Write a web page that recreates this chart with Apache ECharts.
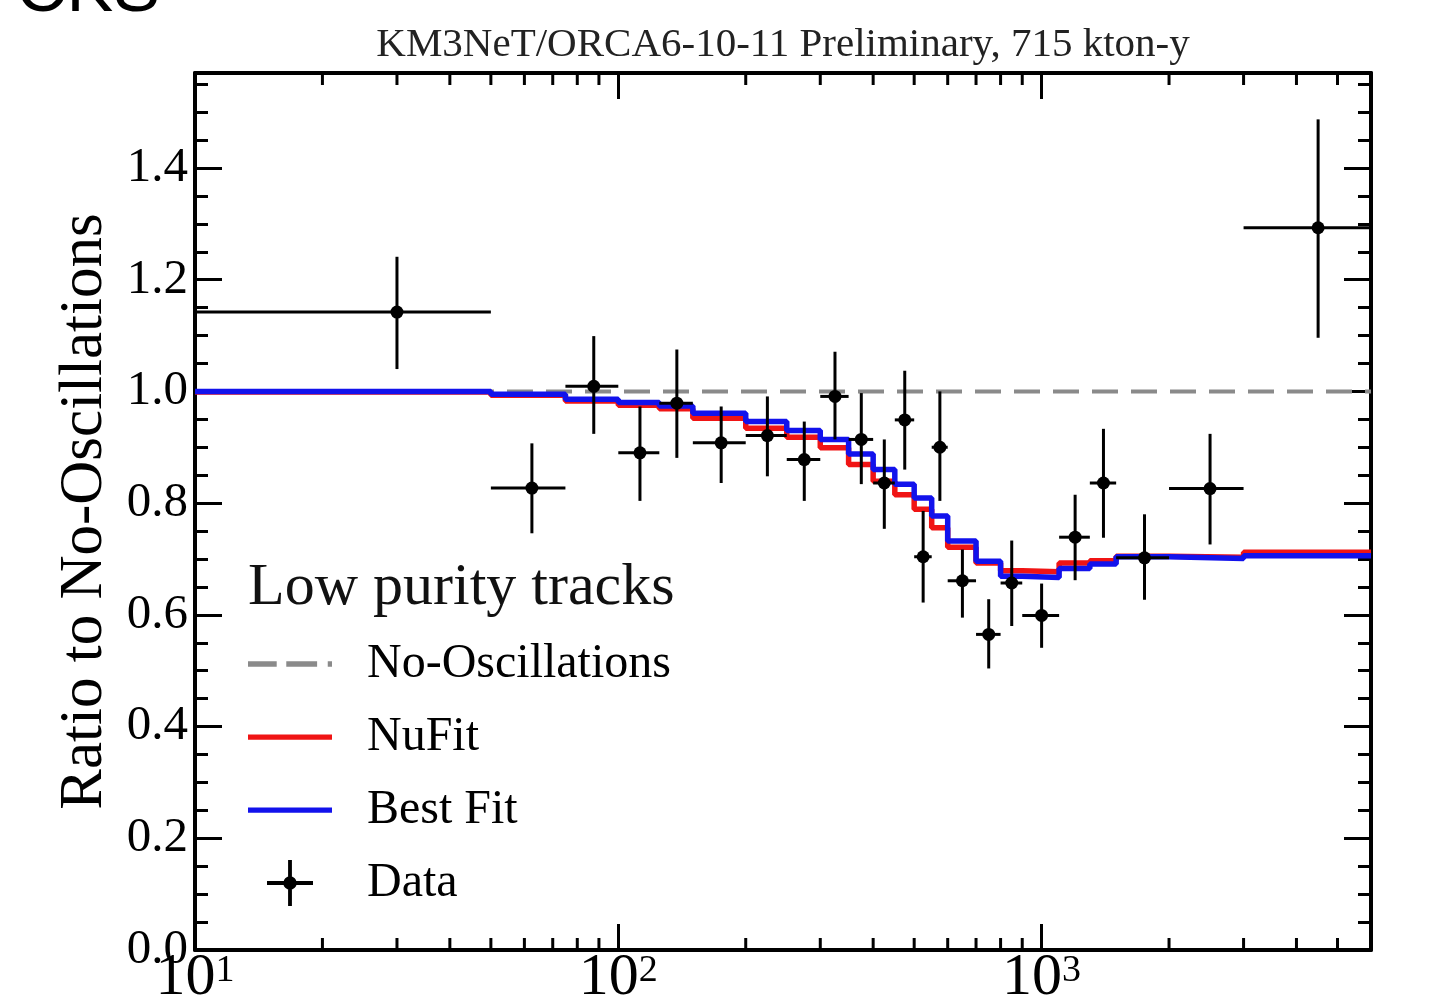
<!DOCTYPE html>
<html><head><meta charset="utf-8">
<script src="https://cdn.jsdelivr.net/npm/echarts@6/dist/echarts.min.js"></script>
<style>html,body{margin:0;padding:0;background:#fff}#c{width:1435px;height:1008px}</style>
</head><body><div id="c"></div>
<script>
// ---- data ----
const binLo = [10, 50, 75, 100, 125, 150, 200, 250, 300, 350, 400, 450, 500, 550, 600, 700, 800, 900, 1100, 1300, 1500, 2000, 3000];
const binHi = [50, 75, 100, 125, 150, 200, 250, 300, 350, 400, 450, 500, 550, 600, 700, 800, 900, 1100, 1300, 1500, 2000, 3000, 6000];
const dataX = [30, 62.5, 87.5, 112.5, 137.5, 175, 225, 275, 325, 375, 425, 475, 525, 575, 650, 750, 850, 1000, 1200, 1400, 1750, 2500, 4500];
const dataY = [1.142, 0.827, 1.009, 0.890, 0.979, 0.908, 0.921, 0.878, 0.991, 0.914, 0.836, 0.949, 0.704, 0.900, 0.661, 0.565, 0.657, 0.599, 0.739, 0.836, 0.702, 0.826, 1.293];
const dataErrLo = [1.040, 0.746, 0.924, 0.804, 0.881, 0.836, 0.848, 0.804, 0.914, 0.834, 0.754, 0.860, 0.622, 0.804, 0.595, 0.504, 0.580, 0.541, 0.662, 0.738, 0.627, 0.726, 1.096];
const dataErrHi = [1.241, 0.907, 1.099, 0.973, 1.075, 0.973, 0.991, 0.946, 1.071, 0.997, 0.914, 1.037, 0.786, 1.000, 0.717, 0.628, 0.733, 0.656, 0.815, 0.933, 0.780, 0.924, 1.487];
const nufit   = [0.999, 0.993, 0.983, 0.975, 0.969, 0.952, 0.934, 0.918, 0.899, 0.869, 0.839, 0.815, 0.789, 0.756, 0.721, 0.693, 0.679, 0.677, 0.693, 0.697, 0.705, 0.703, 0.712];
const bestFit = [1.000, 0.995, 0.986, 0.980, 0.974, 0.961, 0.946, 0.930, 0.914, 0.888, 0.860, 0.834, 0.809, 0.777, 0.732, 0.696, 0.669, 0.667, 0.683, 0.691, 0.704, 0.701, 0.706];
const noOscRatio = 1.0;
const xMin = 10, xMax = 6000;
const yMin = 0, yMax = 1.57, yStep = 0.2;
const xMajorTicks = [10, 100, 1000];
const xMinorTicks = [20, 30, 40, 50, 60, 70, 80, 90, 200, 300, 400, 500, 600, 700, 800, 900, 2000, 3000, 4000, 5000];
const seriesNames = ['No-Oscillations', 'NuFit', 'Best Fit', 'Data'];
const legendTitle = 'Low purity tracks';
const chartTitle = 'KM3NeT/ORCA6-10-11 Preliminary, 715 kton-y';
const yAxisName = 'Ratio to No-Oscillations';
const cornerText = 'CKS';

// ---- build ----
const SERIF = '"Liberation Serif", "Times New Roman", serif';
const RED = '#f01414', BLUE = '#1212ec', GRAY = '#8a8a8a';

function stepData(vals) {
  const d = binLo.map((x, i) => [x, vals[i]]);
  d.push([binHi[binHi.length - 1], vals[vals.length - 1]]);
  return d;
}

const axisLineStyle = { show: true, onZero: false, lineStyle: { color: '#000', width: 4 } };
const tickStyle = { width: 3, color: '#000' };

function xLabel(v) {
  const e = Math.round(Math.log10(v));
  if (Math.abs(v - Math.pow(10, e)) < 1e-6 * v) return '{b|10}{s|' + e + '}';
  return '';
}
function yLabel(v) {
  const k = v / yStep;
  if (Math.abs(k - Math.round(k)) < 1e-6) return v.toFixed(1);
  return '';
}

const xBase = {
  type: 'log', logBase: 10, min: xMin, max: xMax, gridIndex: 0,
  axisLine: axisLineStyle,
  axisTick: { show: true, inside: true, length: 26, lineStyle: tickStyle, customValues: xMajorTicks },
  minorTick: { show: false },
  splitLine: { show: false }, minorSplitLine: { show: false }
};
const yBase = {
  type: 'value', min: yMin, max: yMax, interval: yStep, gridIndex: 0,
  axisLine: axisLineStyle,
  axisTick: { show: true, inside: true, length: 27, lineStyle: tickStyle },
  minorTick: { show: true, splitNumber: 4, length: 13, lineStyle: tickStyle },
  splitLine: { show: false }, minorSplitLine: { show: false }
};

const option = {
  animation: false,
  backgroundColor: '#fff',
  grid: { left: 195, right: 64, top: 73, bottom: 58, containLabel: false },
  xAxis: [
    Object.assign({}, xBase, {
      position: 'bottom',
      axisLabel: {
        show: true, margin: 2, formatter: xLabel, customValues: xMajorTicks,
        rich: {
          b: { fontFamily: SERIF, fontSize: 60, color: '#000', lineHeight: 52 },
          s: { fontFamily: SERIF, fontSize: 38, color: '#000', verticalAlign: 'top', lineHeight: 34 }
        }
      }
    }),
    Object.assign({}, xBase, { position: 'top', axisLabel: { show: false } })
  ],
  yAxis: [
    Object.assign({}, yBase, {
      position: 'left',
      name: yAxisName, nameLocation: 'middle', nameGap: 78, nameRotate: 90,
      nameTextStyle: { fontFamily: SERIF, fontSize: 61, color: '#000' },
      axisLabel: { show: true, margin: 7, formatter: yLabel, fontFamily: SERIF, fontSize: 49, color: '#000' }
    }),
    Object.assign({}, yBase, { position: 'right', axisLabel: { show: false } })
  ],
  legend: {
    orient: 'vertical', left: 248, top: 640, padding: 0,
    itemWidth: 84, itemHeight: 46, itemGap: 25,
    selectedMode: false,
    textStyle: { fontFamily: SERIF, fontSize: 48, color: '#000', padding: [0, 0, 0, 30] },
    itemStyle: { borderWidth: 0 },
    data: [
      { name: seriesNames[0], icon: 'path://M0,0h27v5h-27z M36,0h29v5h-29z M75,0h4v5h-4z' },
      { name: seriesNames[1], icon: 'path://M0,0h80v5h-80z' },
      { name: seriesNames[2], icon: 'path://M0,0h80v5h-80z' },
      { name: seriesNames[3], icon: 'path://M0,22h48v4h-48z M22,0h4v48h-4z M17,24a7,7 0 1,1 14,0a7,7 0 1,1 -14,0z' }
    ]
  },
  graphic: [
    { type: 'text', x: 16, y: -8, style: { text: cornerText, font: '70px "Liberation Sans", Arial, sans-serif', fill: '#000', align: 'left', verticalAlign: 'middle' }, silent: true },
    { type: 'text', x: 783, y: 45, style: { text: chartTitle, font: '41px ' + SERIF, fill: '#222', align: 'center', verticalAlign: 'middle' }, silent: true },
    { type: 'text', x: 248, y: 588, style: { text: legendTitle, font: '60px ' + SERIF, fill: '#111', align: 'left', verticalAlign: 'middle' }, silent: true }
  ],
  series: [
    {
      name: seriesNames[0], type: 'line', xAxisIndex: 0, yAxisIndex: 0,
      data: [[xMin, noOscRatio], [xMax, noOscRatio]],
      symbol: 'none', color: GRAY,
      lineStyle: { color: GRAY, width: 4, type: [26, 13] }, z: 2
    },
    {
      name: seriesNames[1], type: 'line', xAxisIndex: 0, yAxisIndex: 0,
      data: stepData(nufit), step: 'end', symbol: 'none', color: RED,
      lineStyle: { color: RED, width: 5.5 }, z: 3
    },
    {
      name: seriesNames[2], type: 'line', xAxisIndex: 0, yAxisIndex: 0,
      data: stepData(bestFit), step: 'end', symbol: 'none', color: BLUE,
      lineStyle: { color: BLUE, width: 5.5 }, z: 4
    },
    {
      name: seriesNames[3], type: 'custom', xAxisIndex: 0, yAxisIndex: 0, coordinateSystem: 'cartesian2d',
      color: '#000', itemStyle: { color: '#000' }, z: 10,
      data: dataX.map((x, i) => [x, dataY[i], binLo[i], binHi[i], dataErrLo[i], dataErrHi[i]]),
      encode: { x: [0, 2, 3], y: [1, 4, 5] },
      renderItem: function (params, api) {
        const c = api.coord([api.value(0), api.value(1)]);
        const l = api.coord([api.value(2), api.value(1)]);
        const r = api.coord([api.value(3), api.value(1)]);
        const lo = api.coord([api.value(0), api.value(4)]);
        const hi = api.coord([api.value(0), api.value(5)]);
        return {
          type: 'group', children: [
            { type: 'line', shape: { x1: l[0], y1: c[1], x2: r[0], y2: c[1] }, style: { stroke: '#000', lineWidth: 3 } },
            { type: 'line', shape: { x1: c[0], y1: hi[1], x2: c[0], y2: lo[1] }, style: { stroke: '#000', lineWidth: 3 } },
            { type: 'circle', shape: { cx: c[0], cy: c[1], r: 6.5 }, style: { fill: '#000' } }
          ]
        };
      }
    },
    {
      name: 'xMinorTicks', type: 'custom', xAxisIndex: 0, yAxisIndex: 0, coordinateSystem: 'cartesian2d',
      silent: true, z: 6,
      data: xMinorTicks.map(v => [v, yMin]),
      renderItem: function (params, api) {
        const b = api.coord([api.value(0), yMin]);
        const t = api.coord([api.value(0), yMax]);
        return {
          type: 'group', children: [
            { type: 'line', shape: { x1: b[0], y1: b[1], x2: b[0], y2: b[1] - 12 }, style: { stroke: '#000', lineWidth: 3 } },
            { type: 'line', shape: { x1: t[0], y1: t[1], x2: t[0], y2: t[1] + 12 }, style: { stroke: '#000', lineWidth: 3 } }
          ]
        };
      }
    }
  ]
};

const chart = echarts.init(document.getElementById('c'), null, { renderer: 'canvas' });
chart.setOption(option);
</script>
</body></html>
